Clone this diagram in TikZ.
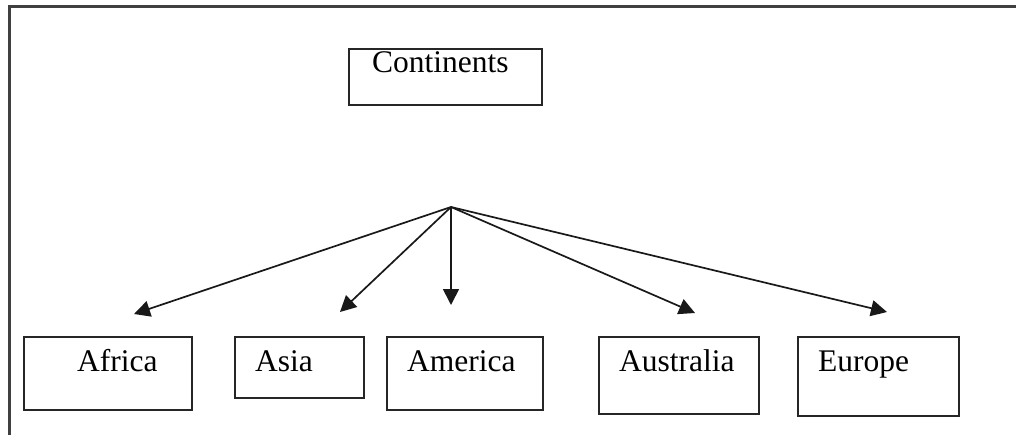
\documentclass[tikz,border=0pt]{standalone}
\usepackage{fontspec}
\setmainfont{Liberation Serif}
\usetikzlibrary{arrows.meta}

\begin{document}
\begin{tikzpicture}[x=1pt,y=-1pt]
\tikzstyle{box}=[draw=black!85,line width=1.8pt,inner sep=0pt]
\tikzstyle{boxtext}=[anchor=base west,inner sep=0pt,font=\fontsize{31.5}{36}\selectfont]
\tikzstyle{link}=[draw=black!90,line width=1.7pt,-{Triangle[length=16pt,width=16pt]}]
\useasboundingbox (0,0) rectangle (1016,434);
\draw [black!75,line width=3pt] (9,436) -- (9,6) -- (1018,6);
\node [box,minimum width=193pt,minimum height=56pt] (cont) at (445.5,77) {};
\node [box,minimum width=168pt,minimum height=73pt] (afr) at (108,373.5) {};
\node [box,minimum width=129pt,minimum height=61pt] (asi) at (299.5,367.5) {};
\node [box,minimum width=156pt,minimum height=73pt] (ame) at (465,373.5) {};
\node [box,minimum width=160pt,minimum height=77pt] (aus) at (679,375.5) {};
\node [box,minimum width=161pt,minimum height=79pt] (eur) at (878.5,376.5) {};
\node [boxtext] (conttext) at (372,72) {Continents};
\node [boxtext] (afrtext) at (77,371) {Africa};
\node [boxtext] (asitext) at (255,371) {Asia};
\node [boxtext] (ametext) at (407,371) {America};
\node [boxtext] (austext) at (619,371) {Australia};
\node [boxtext] (eurtext) at (818,371) {Europe};
\coordinate (hub) at (451,207);
\coordinate (afrtip) at (134,314);
\coordinate (asitip) at (340,312);
\coordinate (ametip) at (451,305);
\coordinate (austip) at (695,313);
\coordinate (eurtip) at (887,312);
\draw [link] (hub) -- (afrtip);
\draw [link] (hub) -- (asitip);
\draw [link] (hub) -- (ametip);
\draw [link] (hub) -- (austip);
\draw [link] (hub) -- (eurtip);
\end{tikzpicture}
\end{document}
